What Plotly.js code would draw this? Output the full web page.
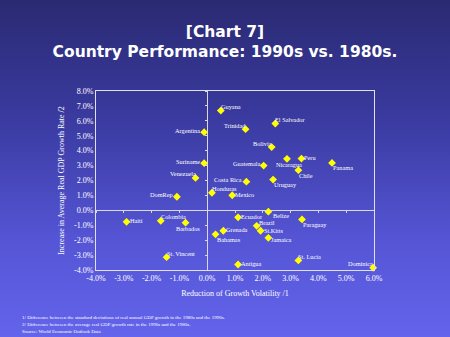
<!DOCTYPE html>
<html>
<head>
<meta charset="utf-8">
<script src="https://cdn.plot.ly/plotly-3.0.1.min.js"></script>
<style>
html,body{margin:0;padding:0;}
body{width:450px;height:337px;background:linear-gradient(to bottom,#2a2a72 0%,#3a3aa0 35%,#5454d4 70%,#6464ec 100%);}
#chart{width:450px;height:337px;}
</style>
</head>
<body>
<div id="chart"></div>
<script>
const countries = ["Guyana","Trinidad","El Salvador","Argentina","Bolivia","Suriname","Guatemala","Nicaragua","Peru","Chile","Panama","Venezuela","Costa Rica","Uruguay","DomRep","Honduras","Mexico","Colombia","Haiti","Barbados","Ecuador","Belize","Brazil","St.Kitts","Grenada","Bahamas","Jamaica","Paraguay","St. Vincent","St. Lucia","Antigua","Dominica"];
const volatilityReduction = [0.49,1.38,2.45,-0.11,2.32,-0.11,2.03,2.87,3.39,3.28,4.49,-0.42,1.41,2.37,-1.09,0.17,0.90,-1.67,-2.90,-0.78,1.11,2.20,1.78,1.92,0.58,0.30,2.20,3.41,-1.46,3.28,1.11,5.97];
const growthIncrease = [6.69,5.44,5.82,5.24,4.24,3.16,3.00,3.45,3.47,2.69,3.18,2.17,1.92,2.06,0.91,1.18,1.01,-0.70,-0.77,-0.83,-0.47,-0.09,-1.04,-1.37,-1.37,-1.61,-1.84,-0.61,-3.14,-3.36,-3.63,-3.85];
// label side relative to its marker
const labelSide = ["TR","TL","TR","L","TL","L","L","B","R","BR","BR","TL","L","BR","L","TR","R","TR","R","B","R","BX","RU","RD","R","BR","RL","BR","TR","TR","R","TL"];
const xTicks = [-4,-3,-2,-1,0,1,2,3,4,5,6];
const yTicks = [-4,-3,-2,-1,0,1,2,3,4,5,6,7,8];
const footnotes = [
  "1/ Difference between the standard deviations of real annual GDP growth in the 1980s and the 1990s.",
  "2/ Difference between the average real GDP growth rate in the 1990s and the 1980s.",
  "Source: World Economic Outlook Data"
];

const serif = "Liberation Serif, Times New Roman, serif";
const white = "#ffffff";

const sideStyle = {
  R:  {xanchor: "left",   xshift: 2,  yshift: 1},
  RU: {xanchor: "left",   xshift: 1,  yshift: 3},
  RD: {xanchor: "left",   xshift: 2,  yshift: 0.5},
  RL: {xanchor: "left",   xshift: 2,  yshift: -2},
  L:  {xanchor: "right",  xshift: -3, yshift: 2},
  TR: {xanchor: "left",   xshift: -1, yshift: 4},
  TL: {xanchor: "right",  xshift: 1,  yshift: 4},
  BR: {xanchor: "left",   xshift: 0,  yshift: -5},
  BX: {xanchor: "left",   xshift: 4,  yshift: -4},
  B:  {xanchor: "center", xshift: 2,  yshift: -6}
};

const traces = [
  {
    type: "scatter", mode: "markers",
    x: volatilityReduction, y: growthIncrease,
    marker: {symbol: "diamond", size: 6, color: "#ffff00"},
    cliponaxis: false, hoverinfo: "skip"
  },
  {type: "scatter", mode: "markers", x: [], y: [], xaxis: "x2", yaxis: "y2", hoverinfo: "skip"}
];

const xr = [xTicks[0], xTicks[xTicks.length-1]];
const yr = [yTicks[0], yTicks[yTicks.length-1]];

const labelAnns = countries.map((c, i) => Object.assign({
  text: c, x: volatilityReduction[i], y: growthIncrease[i], xref: "x", yref: "y",
  yanchor: "middle", showarrow: false, borderpad: 0,
  font: {family: serif, size: 6.3, color: white}
}, sideStyle[labelSide[i]]));

const noteAnns = footnotes.map((t, i) => ({
  text: t, xref: "paper", yref: "paper", x: -0.273, y: -0.265 - i*0.04,
  xanchor: "left", yanchor: "middle", showarrow: false,
  font: {family: serif, size: 5, color: white}
}));

const layout = {
  width: 450, height: 337,
  paper_bgcolor: "rgba(0,0,0,0)", plot_bgcolor: "rgba(0,0,0,0)",
  margin: {l: 96, r: 76, t: 91, b: 67, pad: 0},
  showlegend: false,
  title: {
    text: "[Chart 7]<br>Country Performance: 1990s vs. 1980s.",
    font: {family: "DejaVu Sans", size: 15.5, color: white, weight: "bold"},
    x: 0.5, xanchor: "center", y: 0.89, yanchor: "top"
  },
  xaxis: {
    range: xr, tickvals: xTicks, ticktext: xTicks.map(v => v.toFixed(1) + "%"),
    showgrid: false, zeroline: true, zerolinecolor: "#d8d8e8", zerolinewidth: 1,
    showline: true, mirror: true, linecolor: "#e0e0ee", linewidth: 1,
    ticks: "", tickfont: {family: serif, size: 8, color: white},
    title: {text: "Reduction of Growth Volatility /1", font: {family: serif, size: 8, color: white}, standoff: 8},
    fixedrange: true
  },
  yaxis: {
    range: yr, tickvals: yTicks, ticktext: yTicks.map(v => v.toFixed(1) + "%"),
    showgrid: false, zeroline: true, zerolinecolor: "#d8d8e8", zerolinewidth: 1,
    showline: true, mirror: true, linecolor: "#e0e0ee", linewidth: 1,
    ticks: "", tickfont: {family: serif, size: 8, color: white},
    title: {text: "Increase in Average Real GDP Growth Rate /2", font: {family: serif, size: 8, color: white}, standoff: 8},
    fixedrange: true
  },
  xaxis2: {
    overlaying: "x", anchor: "free", position: (0 - yr[0]) / (yr[1] - yr[0]),
    range: xr, tickvals: xTicks, showticklabels: false, ticks: "outside", ticklen: 2,
    tickcolor: "#d8d8e8", showline: false, showgrid: false, zeroline: false
  },
  yaxis2: {
    overlaying: "y", anchor: "free", position: (0 - xr[0]) / (xr[1] - xr[0]),
    range: yr, tickvals: yTicks, showticklabels: false, ticks: "outside", ticklen: 2,
    tickcolor: "#d8d8e8", showline: false, showgrid: false, zeroline: false
  },
  annotations: labelAnns.concat(noteAnns)
};

Plotly.newPlot("chart", traces, layout, {displayModeBar: false, staticPlot: true});
</script>
</body>
</html>
